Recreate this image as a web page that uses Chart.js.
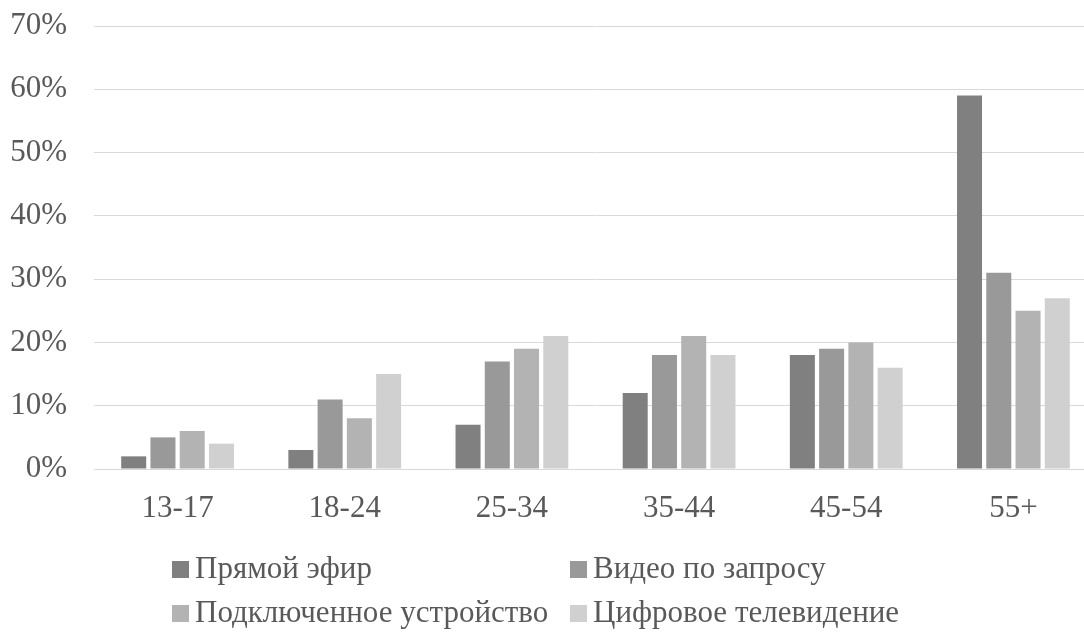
<!DOCTYPE html>
<html>
<head>
<meta charset="utf-8">
<script src="https://cdn.jsdelivr.net/npm/chart.js@4/dist/chart.umd.min.js"></script>
<style>
  html, body { margin: 0; padding: 0; background: #fff; overflow: hidden; }
  #wrap { width: 1100px; height: 633px; }
</style>
</head>
<body>
<div id="wrap"><canvas id="c" width="1100" height="633"></canvas></div>
<script>
// Age groups on the x axis
const ageGroups = ['13-17', '18-24', '25-34', '35-44', '45-54', '55+'];

// Share of viewers by age group, percent
const liveTv       = [2, 3, 7, 12, 18, 59];
const videoOnDemand = [5, 11, 17, 18, 19, 31];
const connectedDevice = [6, 8, 19, 21, 20, 25];
const digitalTv    = [4, 15, 21, 18, 16, 27];

const seriesNames = ['Прямой эфир', 'Видео по запросу', 'Подключенное устройство', 'Цифровое телевидение'];
const seriesColors = ['#808080', '#999999', '#b3b3b3', '#d0d0d0'];

const yTicks = [0, 10, 20, 30, 40, 50, 60, 70];

const FONT = '"Liberation Serif", "Times New Roman", serif';
const TEXT = '#595959';

// Two-column legend drawn under the axis
const gridLegend = {
  id: 'gridLegend',
  afterDraw(chart) {
    const ctx = chart.ctx;
    const cols = [172, 570];
    const rows = [578, 622];
    ctx.save();
    ctx.font = '31px ' + FONT;
    ctx.textBaseline = 'alphabetic';
    ctx.textAlign = 'left';
    chart.data.datasets.forEach((ds, i) => {
      const x = cols[i % 2];
      const y = rows[Math.floor(i / 2)];
      ctx.fillStyle = ds.backgroundColor;
      ctx.fillRect(x, y - 17, 17, 17);
      ctx.fillStyle = TEXT;
      ctx.fillText(ds.label, x + 23, y);
    });
    ctx.restore();
  }
};

const values = [liveTv, videoOnDemand, connectedDevice, digitalTv];

new Chart(document.getElementById('c'), {
  type: 'bar',
  data: {
    labels: ageGroups,
    datasets: values.map((v, i) => ({
      label: seriesNames[i],
      data: v,
      backgroundColor: seriesColors[i],
      borderWidth: 0,
      categoryPercentage: 0.7,
      barPercentage: 0.855
    }))
  },
  options: {
    responsive: false,
    animation: false,
    layout: { padding: { top: 26, bottom: 104, left: 0, right: 3 } },
    plugins: {
      legend: { display: false },
      tooltip: { enabled: false }
    },
    scales: {
      x: {
        grid: { display: false, tickLength: 0 },
        border: { color: '#d9d9d9', width: 1 },
        ticks: { color: TEXT, font: { family: FONT, size: 31 }, padding: 21 },
        afterFit(scale) { scale.height = 60; }
      },
      y: {
        min: 0,
        max: 70,
        afterBuildTicks(scale) { scale.ticks = yTicks.map(v => ({ value: v })); },
        grid: { color: '#d9d9d9', lineWidth: 1, drawTicks: false },
        border: { display: false },
        ticks: {
          color: TEXT,
          font: { family: FONT, size: 31 },
          padding: 27,
          callback: v => v + '%'
        },
        afterFit(scale) {
          scale.width = 94;
          scale.paddingTop = 0;
          scale.paddingBottom = 0;
        }
      }
    }
  },
  plugins: [gridLegend]
});
</script>
</body>
</html>
